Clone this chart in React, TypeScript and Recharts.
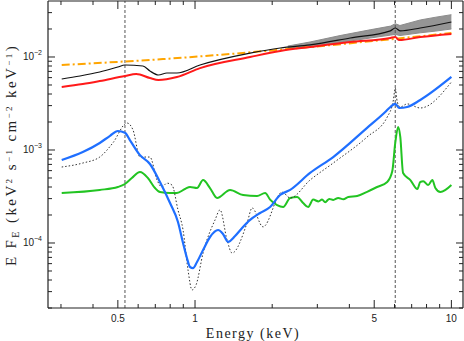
import { ComposedChart, Line, Area, XAxis, YAxis, ReferenceLine, Label } from 'recharts';

// energies (keV) and E F_E values
const totalE = [0.302, 0.356, 0.425, 0.5, 0.533, 0.626, 0.667, 0.72, 0.777, 0.85, 1.046, 1.64, 2.15, 2.81, 4.03, 5.78, 6.04, 6.32, 7.56, 10];
const totalV = [5.8e-3, 6.25e-3, 6.9e-3, 7.8e-3, 8.2e-3, 8.0e-3, 7.07e-3, 6.4e-3, 6.73e-3, 6.73e-3, 8.2e-3, 0.011, 0.0125, 0.0135, 0.016, 0.0191, 0.0205, 0.0191, 0.0205, 0.0238];

const contE = [0.302, 0.365, 0.425, 0.533, 0.59, 0.667, 0.72, 0.85, 1.046, 1.64, 2.15, 2.81, 4.03, 5.78, 6.04, 6.26, 7.56, 10];
const contV = [4.76e-3, 5.12e-3, 5.52e-3, 6.25e-3, 6.56e-3, 5.94e-3, 5.66e-3, 6.1e-3, 7.6e-3, 0.01, 0.0116, 0.0128, 0.0145, 0.016, 0.0164, 0.0152, 0.0164, 0.0177];

const plE = [0.302, 0.75, 2.81, 10];
const plV = [8.2e-3, 9.5e-3, 0.0128, 0.0181];

const dataE = [2.3, 2.81, 3.68, 4.82, 5.8, 6.04, 6.3, 7.56, 8.7, 10];
const dataLo = [0.0123, 0.0127, 0.0143, 0.0160, 0.0172, 0.0175, 0.0170, 0.0182, 0.0190, 0.0200];
const dataHi = [0.0131, 0.0145, 0.0170, 0.0196, 0.0215, 0.0228, 0.0218, 0.0250, 0.0268, 0.0285];

const reflE = [0.302, 0.365, 0.425, 0.466, 0.5, 0.533, 0.557, 0.61, 0.667, 0.73, 0.799, 0.858, 0.898, 0.93, 0.956, 0.982, 1.018, 1.075, 1.144, 1.23, 1.286, 1.345, 1.433, 1.526, 1.64, 1.794, 1.963, 2.147, 2.35, 2.81, 3.46, 4.69, 5.52, 5.78, 6.04, 6.26, 6.72, 7.56, 10];
const reflV = [7.8e-4, 9.5e-4, 1.19e-3, 1.42e-3, 1.6e-3, 1.53e-3, 1.28e-3, 8.8e-4, 7.07e-4, 4.53e-4, 2.69e-4, 1.68e-4, 1.0e-4, 6.9e-5, 5.52e-5, 5.38e-5, 6.25e-5, 8.4e-5, 1.16e-4, 1.38e-4, 1.25e-4, 1.03e-4, 1.19e-4, 1.45e-4, 1.77e-4, 2.1e-4, 2.44e-4, 3.28e-4, 3.72e-4, 5.66e-4, 8.4e-4, 1.73e-3, 2.56e-3, 2.9e-3, 3.13e-3, 2.83e-3, 2.9e-3, 3.45e-3, 6.1e-3];

const altE = [0.302, 0.365, 0.425, 0.478, 0.543, 0.573, 0.61, 0.649, 0.667, 0.711, 0.743, 0.777, 0.813, 0.858, 0.898, 0.939, 0.973, 1.009, 1.075, 1.197, 1.252, 1.333, 1.395, 1.596, 1.67, 1.842, 2.186, 2.35, 2.81, 3.46, 4.69, 5.62, 5.94, 6.04, 6.15, 6.32, 6.72, 7.56, 10];
const altV = [6.56e-4, 7.24e-4, 8.4e-4, 1.19e-3, 1.95e-3, 1.64e-3, 8.4e-4, 8.4e-4, 8.4e-4, 4.75e-4, 4.0e-4, 4.4e-4, 4.2e-4, 2.27e-4, 1.38e-4, 5.13e-5, 3.13e-5, 3.53e-5, 7.8e-5, 1.77e-4, 2.27e-4, 1.08e-4, 7.8e-5, 1.64e-4, 2.38e-4, 1.49e-4, 3.53e-4, 3.05e-4, 4.75e-4, 7.24e-4, 1.38e-3, 2.26e-3, 3.45e-3, 4.64e-3, 3.28e-3, 2.9e-3, 3.13e-3, 2.83e-3, 5.39e-3];

const lineE = [0.302, 0.425, 0.5, 0.533, 0.567, 0.61, 0.655, 0.698, 0.73, 0.799, 0.85, 0.914, 0.956, 1.018, 1.075, 1.144, 1.219, 1.37, 1.54, 1.746, 1.877, 1.963, 2.09, 2.207, 2.35, 2.502, 2.641, 2.763, 2.89, 3.03, 3.13, 3.22, 3.34, 3.46, 3.62, 3.79, 3.96, 4.29, 4.69, 5.13, 5.62, 5.88, 6.04, 6.2, 6.32, 6.48, 6.92, 7.37, 7.56, 7.77, 8.12, 8.43, 8.66, 9.06, 10];
const lineV = [3.45e-4, 3.72e-4, 4.0e-4, 4.31e-4, 5.0e-4, 5.8e-4, 5.0e-4, 3.9e-4, 3.53e-4, 3.45e-4, 3.45e-4, 3.81e-4, 4.0e-4, 3.9e-4, 4.75e-4, 3.9e-4, 3.05e-4, 3.72e-4, 3.28e-4, 3.2e-4, 3.45e-4, 2.93e-4, 2.56e-4, 2.44e-4, 3.05e-4, 3.13e-4, 2.69e-4, 2.44e-4, 2.93e-4, 2.8e-4, 2.93e-4, 2.75e-4, 2.98e-4, 2.9e-4, 3.05e-4, 2.95e-4, 3.13e-4, 3.2e-4, 3.55e-4, 4.0e-4, 4.53e-4, 5.9e-4, 1.19e-3, 1.77e-3, 1.38e-3, 5.66e-4, 4.75e-4, 3.81e-4, 4.53e-4, 4.6e-4, 4.2e-4, 4.75e-4, 3.9e-4, 3.53e-4, 4.2e-4];

const markerE = [0.533, 6.04];

const xTicks = [0.3, 0.4, 0.5, 0.6, 0.7, 0.8, 0.9, 1, 2, 3, 4, 5, 6, 7, 8, 9, 10];
const xLabelled = [0.5, 1, 5, 10];
const yTicks = [2e-5, 3e-5, 4e-5, 5e-5, 6e-5, 7e-5, 8e-5, 9e-5, 1e-4, 2e-4, 3e-4, 4e-4, 5e-4, 6e-4, 7e-4, 8e-4, 9e-4, 1e-3, 2e-3, 3e-3, 4e-3, 5e-3, 6e-3, 7e-3, 8e-3, 9e-3, 1e-2, 2e-2, 3e-2];
const yLabelled = [1e-4, 1e-3, 1e-2];

const zip = (es: number[], vs: number[]) => es.map((E, i) => ({ E, v: vs[i] }));

const totalData = zip(totalE, totalV);
const contData = zip(contE, contV);
const plData = zip(plE, plV);
const reflData = zip(reflE, reflV);
const altData = zip(altE, altV);
const lineData = zip(lineE, lineV);
const bandData = dataE.map((E, i) => ({ E, band: [dataLo[i], dataHi[i]] }));

const AXIS = '#222';
const NUM_FONT = "'Liberation Sans', Arial, sans-serif";
const TITLE_FONT = "'Liberation Serif', 'Times New Roman', serif";

function XTick(props: any) {
  const { x, y, payload, top } = props;
  const v = payload.value;
  const major = xLabelled.includes(v);
  const len = major ? 8 : 4;
  const dir = top ? 1 : -1;
  return (
    <g>
      <line x1={x} x2={x} y1={y} y2={y + dir * len} stroke={AXIS} />
      {!top && major && (
        <text x={x} y={y + 14} textAnchor="middle" fontSize={10} fontFamily={NUM_FONT} fill="#222">
          {String(v)}
        </text>
      )}
    </g>
  );
}

function YTick(props: any) {
  const { x, y, payload, right } = props;
  const v = payload.value;
  const major = yLabelled.some((m) => Math.abs(m - v) / m < 1e-6);
  const len = major ? 7 : 4;
  const dir = right ? -1 : 1;
  const exp = Math.round(Math.log10(v));
  return (
    <g>
      <line x1={x} x2={x + dir * len} y1={y} y2={y} stroke={AXIS} />
      {!right && major && (
        <text x={x - 6} y={y + 3} textAnchor="end" fontSize={10} fontFamily={NUM_FONT} fill="#222">
          10<tspan dy={-5} fontSize={7}>{'\u2212' + Math.abs(exp)}</tspan>
        </text>
      )}
    </g>
  );
}

const axisCommon = {
  type: 'number' as const,
  scale: 'log' as const,
  allowDataOverflow: true,
  interval: 0 as const,
  tickSize: 0,
  tickMargin: 0,
  tickLine: false,
  axisLine: { stroke: AXIS, strokeWidth: 1.2 },
};

export default function App() {
  return (
    <div style={{ position: 'absolute', left: 0, top: 0, background: '#fff' }}>
      <ComposedChart width={464} height={341} margin={{ top: 0, right: 0, bottom: 0, left: 0 }}>
        <XAxis xAxisId="b" dataKey="E" domain={[0.267, 11.1]} ticks={xTicks} height={33} tick={<XTick />} {...axisCommon}>
          <Label
            content={() => (
              <text x={253} y={338} textAnchor="middle" fontSize={14} letterSpacing={1.5} fontFamily={TITLE_FONT} fill="#222">
                Energy (keV)
              </text>
            )}
          />
        </XAxis>
        <XAxis xAxisId="t" orientation="top" dataKey="E" domain={[0.267, 11.1]} ticks={xTicks} height={1} tick={<XTick top />} {...axisCommon} />
        <YAxis yAxisId="l" domain={[2e-5, 0.04]} ticks={yTicks} width={48} tick={<YTick />} {...axisCommon}>
          <Label
            content={() => (
              <text
                x={16}
                y={155}
                transform="rotate(-90 16 155)"
                textAnchor="middle"
                fontSize={15}
                letterSpacing={2.4}
                fontFamily={TITLE_FONT}
                fill="#222"
              >
                E F<tspan dy={3} fontSize={10}>E</tspan>
                <tspan dy={-3}> (keV</tspan>
                <tspan dy={-4.5} fontSize={9}>2</tspan>
                <tspan dy={4.5}> s</tspan>
                <tspan dy={-4.5} fontSize={9}>{'\u22121'}</tspan>
                <tspan dy={4.5}> cm</tspan>
                <tspan dy={-4.5} fontSize={9}>{'\u22122'}</tspan>
                <tspan dy={4.5}> keV</tspan>
                <tspan dy={-4.5} fontSize={9}>{'\u22121'}</tspan>
                <tspan dy={4.5}>)</tspan>
              </text>
            )}
          />
        </YAxis>
        <YAxis yAxisId="r" orientation="right" domain={[2e-5, 0.04]} ticks={yTicks} width={1} tick={<YTick right />} {...axisCommon} />

        {markerE.map((e) => (
          <ReferenceLine key={e} x={e} xAxisId="b" yAxisId="l" stroke="#555" strokeDasharray="3 2" strokeWidth={1} />
        ))}

        <Area
          data={bandData}
          xAxisId="b"
          yAxisId="l"
          dataKey="band"
          type="linear"
          stroke="#8c8c8c"
          strokeWidth={1}
          fill="#959595"
          fillOpacity={1}
          isAnimationActive={false}
        />
        <Line data={plData} xAxisId="b" yAxisId="l" dataKey="v" type="monotone" stroke="#ffa500" strokeWidth={2} strokeDasharray="8 3 2 3" dot={false} isAnimationActive={false} />
        <Line data={contData} xAxisId="b" yAxisId="l" dataKey="v" type="monotone" stroke="#ff1a1a" strokeWidth={2} dot={false} isAnimationActive={false} />
        <Line data={totalData} xAxisId="b" yAxisId="l" dataKey="v" type="monotone" stroke="#111" strokeWidth={1.2} dot={false} isAnimationActive={false} />
        <Line data={lineData} xAxisId="b" yAxisId="l" dataKey="v" type="monotone" stroke="#22c422" strokeWidth={2} dot={false} isAnimationActive={false} />
        <Line data={altData} xAxisId="b" yAxisId="l" dataKey="v" type="monotone" stroke="#333" strokeWidth={1} strokeDasharray="1.5 2" dot={false} isAnimationActive={false} />
        <Line data={reflData} xAxisId="b" yAxisId="l" dataKey="v" type="monotone" stroke="#1f6fff" strokeWidth={2.2} dot={false} isAnimationActive={false} />
      </ComposedChart>
    </div>
  );
}
